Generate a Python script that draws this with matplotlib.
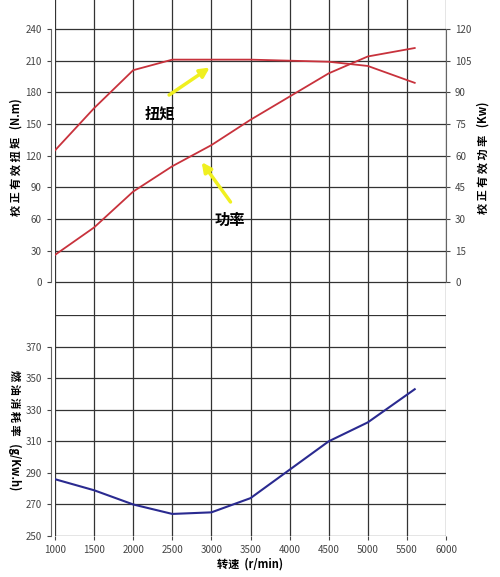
import matplotlib.pyplot as plt

plt.rcParams['font.family'] = ['Noto Sans CJK SC', 'DejaVu Sans']

rpm = [1000, 1500, 2000, 2500, 3000, 3500, 4000, 4500, 5000, 5600]
torque = [125, 165, 201, 211, 211, 211, 210, 209, 205, 189]
power = [13, 26, 43, 55, 65, 77, 88, 99, 107, 111]
fuel = [286, 279, 270, 264, 265, 274, 292, 310, 322, 343]

x_ticks = list(range(1000, 6001, 500))
torque_ticks = list(range(0, 241, 30))
power_ticks = list(range(0, 121, 15))
fuel_ticks = list(range(250, 371, 20))

fig = plt.figure(figsize=(5, 5.77), dpi=100)
ax1 = fig.add_axes([0.11, 0.454, 0.782, 0.546])
ax3 = fig.add_axes([0.11, 0.071, 0.782, 0.383])

grid_kw = dict(color='#333333', lw=0.9)
for ax in (ax1, ax3):
    ax.set_xlim(1000, 6000)
    for x in x_ticks:
        ax.axvline(x, **grid_kw, zorder=0)
    for s in ('top', 'right', 'bottom'):
        ax.spines[s].set_visible(False)

# top panel
ax1.set_ylim(-31, 267.5)
for y in torque_ticks:
    ax1.axhline(y, **grid_kw, zorder=0)
ax1.plot(rpm, torque, color='#c8323c', lw=1.3)
ax1.set_yticks(torque_ticks)
ax1.set_xticks([])
ax1.spines['left'].set_bounds(0, 240)
ax1.spines['left'].set_position(('outward', 3))
ax1.spines['left'].set_color('#666666')
ax1.tick_params(axis='y', labelsize=7, colors='#444444', length=3)
ax1.set_ylabel('校 正 有 效 扭 矩   (N.m)', fontsize=8, fontweight='bold', labelpad=2)

ax2 = ax1.twinx()
ax2.set_ylim(-31 / 2, 267.5 / 2)
ax2.plot(rpm, power, color='#c8323c', lw=1.3)
ax2.set_yticks(power_ticks)
for s in ('top', 'left', 'bottom'):
    ax2.spines[s].set_visible(False)
ax2.spines['right'].set_bounds(0, 120)
ax2.spines['right'].set_color('#666666')
ax2.tick_params(axis='y', labelsize=7, colors='#444444', length=3)
ax2.set_ylabel('校 正 有 效 功 率   (Kw)', fontsize=8, fontweight='bold', labelpad=4)

arrow_kw = dict(arrowstyle='-|>', color='#f0f020', lw=2.5, mutation_scale=14)
ax1.annotate('', xy=(3008, 205), xytext=(2430, 176), arrowprops=arrow_kw)
ax1.text(2340, 160, '扭矩', fontsize=11, fontweight='bold', ha='center', va='center')
ax1.annotate('', xy=(2855, 116), xytext=(3265, 74), arrowprops=arrow_kw)
ax1.text(3240, 59, '功率', fontsize=11, fontweight='bold', ha='center', va='center')

# bottom panel
ax3.set_ylim(250, 390)
for y in fuel_ticks + [390]:
    ax3.axhline(y, **grid_kw, zorder=0)
ax3.plot(rpm, fuel, color='#2a2a90', lw=1.5)
ax3.set_yticks(fuel_ticks)
ax3.set_xticks(x_ticks)
ax3.spines['left'].set_bounds(250, 370)
ax3.spines['left'].set_position(('outward', 3))
ax3.spines['left'].set_color('#666666')
ax3.tick_params(axis='both', labelsize=7, colors='#444444', length=3)
fig.text(0.03, 0.255, '燃 油 消 耗 率   (g/Kw.h)', fontsize=8, fontweight='bold',
         rotation=270, ha='center', va='center')
ax3.set_xlabel('转速  (r/min)', fontsize=8, fontweight='bold', labelpad=2)

fig.savefig('out.png', dpi=100)
